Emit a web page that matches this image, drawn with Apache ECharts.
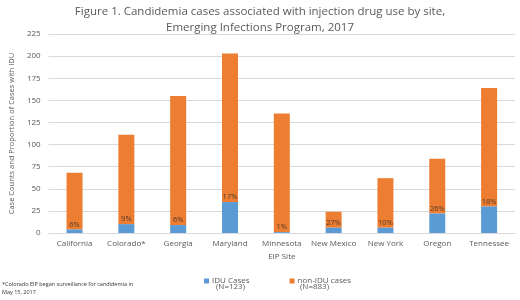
<!DOCTYPE html>
<html>
<head>
<meta charset="utf-8">
<script src="https://cdn.jsdelivr.net/npm/echarts@6/dist/echarts.min.js"></script>
<style>
  html, body { margin: 0; padding: 0; background: #fff; }
  #chart { width: 520px; height: 300px; }
</style>
</head>
<body>
<div id="chart"></div>
<script>
// data
const sites = ['California', 'Colorado*', 'Georgia', 'Maryland', 'Minnesota', 'New Mexico', 'New York', 'Oregon', 'Tennessee'];
const iduCases = [4, 10, 9, 35, 1, 6, 6, 22, 30];
const nonIduCases = [64, 101, 146, 168, 134, 18, 56, 62, 134];
const iduPercent = ['6%', '9%', '6%', '17%', '1%', '27%', '10%', '26%', '18%'];
const seriesNames = ['IDU Cases', 'non-IDU cases'];
const seriesTotals = ['(N=123)', '(N=883)'];
const yTicks = { min: 0, max: 225, interval: 25 };

const font = '"Open Sans", sans-serif';
const grey = '#595959';

const chart = echarts.init(document.getElementById('chart'));

chart.setOption({
  animation: false,
  textStyle: { fontFamily: font },
  title: {
    text: 'Figure 1. Candidemia cases associated with injection drug use by site,\nEmerging Infections Program, 2017',
    left: 'center',
    top: -1,
    textStyle: { fontSize: 11.5, fontWeight: 'normal', color: grey, lineHeight: 16, fontFamily: font },
  },
  grid: { left: 40, right: 5, top: 34, bottom: 67 },
  legend: {
    data: seriesNames,
    left: 199,
    top: 272,
    icon: 'rect',
    itemWidth: 5,
    itemHeight: 5,
    itemGap: 40,
    textStyle: { fontSize: 8, color: grey, padding: [0, 0, 0, -2] },
  },
  graphic: [
    // second line of each legend entry
    { type: 'text', left: 216, top: 283, style: { text: seriesTotals[0], fontSize: 8, fill: grey, fontFamily: font } },
    { type: 'text', left: 300, top: 283, style: { text: seriesTotals[1], fontSize: 8, fill: grey, fontFamily: font } },
    {
      type: 'text', left: 2, top: 280,
      style: {
        text: '*Colorado EIP began surveillance for candidemia in\nMay 15, 2017',
        fontSize: 5.5, lineHeight: 8, fill: '#333', fontFamily: font,
      },
    },
  ],
  xAxis: {
    type: 'category',
    data: sites,
    name: 'EIP Site',
    nameLocation: 'middle',
    nameGap: 20,
    nameTextStyle: { fontSize: 8, color: grey },
    axisTick: { show: false },
    axisLine: { lineStyle: { color: '#d9d9d9' } },
    axisLabel: { fontSize: 8, color: grey, margin: 7, interval: 0 },
  },
  yAxis: {
    type: 'value',
    min: yTicks.min,
    max: yTicks.max,
    interval: yTicks.interval,
    name: 'Case Counts and Proportion of Cases with IDU',
    nameLocation: 'middle',
    nameGap: 28,
    nameTextStyle: { fontSize: 7.5, color: grey },
    axisLine: { show: false },
    axisTick: { show: false },
    axisLabel: { fontSize: 8, color: grey, margin: 8 },
    splitLine: { lineStyle: { color: '#d9d9d9' } },
  },
  series: [
    {
      name: seriesNames[0],
      type: 'bar',
      stack: 'total',
      barWidth: 16,
      data: iduCases,
      itemStyle: { color: '#5b9bd5' },
      label: {
        show: true,
        position: 'top',
        distance: 1,
        fontSize: 7.5,
        color: '#4d3a2a',
        formatter: (p) => iduPercent[p.dataIndex],
      },
      z: 3,
    },
    {
      name: seriesNames[1],
      type: 'bar',
      stack: 'total',
      barWidth: 16,
      data: nonIduCases,
      itemStyle: { color: '#ed7d31' },
      z: 2,
    },
  ],
});
</script>
</body>
</html>
